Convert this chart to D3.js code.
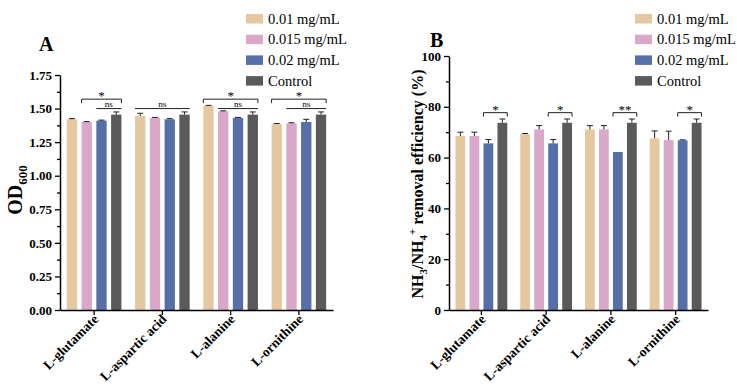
<!DOCTYPE html>
<html>
<head>
<meta charset="utf-8">
<script src="https://cdn.jsdelivr.net/npm/d3@7"></script>
<style>
  body { margin: 0; background: #fff; }
  text { font-family: "Liberation Serif", "Times New Roman", Times, "DejaVu Serif", serif; }
</style>
</head>
<body>
<div id="chart"></div>
<script>
// categories and series
const categories = ["L-glutamate", "L-aspartic acid", "L-alanine", "L-ornithine"];
const seriesNames = ["0.01 mg/mL", "0.015 mg/mL", "0.02 mg/mL", "Control"];
const seriesColors = ["#e6c8a0", "#d9a8c8", "#5570a9", "#5a5a5a"];

// Panel A: OD600
const od001 = [1.42, 1.445, 1.52, 1.385];
const od0015 = [1.40, 1.43, 1.48, 1.39];
const od002 = [1.41, 1.42, 1.43, 1.40];
const odCtrl = [1.455, 1.455, 1.455, 1.455];
const od001Err = [0.005, 0.02, 0.004, 0.004];
const od0015Err = [0.003, 0.004, 0.003, 0.004];
const od002Err = [0.004, 0.005, 0.004, 0.02];
const odCtrlErr = [0.02, 0.02, 0.02, 0.02];
const odTicks = [0, 0.25, 0.5, 0.75, 1.0, 1.25, 1.5, 1.75];

// Panel B: NH3/NH4+ removal efficiency (%)
const rem001 = [68.5, 69.2, 71.1, 67.6];
const rem0015 = [68.5, 71.1, 71.1, 66.9];
const rem002 = [65.6, 65.6, 62.2, 66.8];
const remCtrl = [73.7, 73.7, 73.7, 73.7];
const rem001Err = [1.5, 0.3, 1.5, 2.9];
const rem0015Err = [1.5, 1.5, 1.5, 3.5];
const rem002Err = [1.5, 1.5, 0, 0.2];
const remCtrlErr = [1.5, 1.5, 1.5, 1.5];
const remTicks = [0, 20, 40, 60, 80, 100];

// significance marks: category index, from series, to series, label, level
const sigA = [
    {cat: 0, from: 1, to: 3, label: "*", level: 0},
    {cat: 0, from: 2, to: 3, label: "ns", level: 1},
    {cat: 1, from: 0, to: 3, label: "ns", level: 1},
    {cat: 2, from: 0, to: 3, label: "*", level: 0},
    {cat: 2, from: 1, to: 3, label: "ns", level: 1},
    {cat: 3, from: 0, to: 3, label: "*", level: 0},
    {cat: 3, from: 1, to: 3, label: "ns", level: 1}
];
const sigB = [
    {cat: 0, from: 2, to: 3, label: "*", level: 0},
    {cat: 1, from: 2, to: 3, label: "*", level: 0},
    {cat: 2, from: 2, to: 3, label: "**", level: 0},
    {cat: 3, from: 2, to: 3, label: "*", level: 0}
];

const serif = "'Liberation Serif', 'Times New Roman', Times, 'DejaVu Serif', serif";

let svg = d3.select("#chart").append("svg")
    .attr("width", 737)
    .attr("height", 384);

function drawPanel(opt) {
    let x0 = d3.scaleBand()
        .domain(categories)
        .range([opt.left, opt.right])
        .paddingInner(0.2)
        .paddingOuter(0.1);

    let x1 = d3.scaleBand()
        .domain(d3.range(seriesNames.length))
        .range([0, x0.bandwidth()])
        .paddingInner(0.3);

    let y = d3.scaleLinear()
        .domain(opt.domain)
        .range([opt.bottom, opt.top]);

    let g = svg.append("g");

    // bars
    opt.values.forEach(function (vals, s) {
        g.selectAll(".bar" + s)
            .data(vals)
            .enter().append("rect")
            .attr("x", (d, i) => x0(categories[i]) + x1(s))
            .attr("y", d => y(d))
            .attr("width", x1.bandwidth())
            .attr("height", d => y(0) - y(d))
            .attr("fill", seriesColors[s]);

        // error bars (upper half only)
        vals.forEach(function (d, i) {
            let e = opt.errors[s][i];
            if (!e) return;
            let cx = x0(categories[i]) + x1(s) + x1.bandwidth() / 2;
            g.append("line")
                .attr("x1", cx).attr("x2", cx)
                .attr("y1", y(d)).attr("y2", y(d + e))
                .attr("stroke", "#222").attr("stroke-width", 1);
            g.append("line")
                .attr("x1", cx - 3).attr("x2", cx + 3)
                .attr("y1", y(d + e)).attr("y2", y(d + e))
                .attr("stroke", "#222").attr("stroke-width", 1);
        });
    });

    // minor ticks
    let step = opt.ticks[1] - opt.ticks[0];
    let minor = opt.ticks.slice(0, -1).map(t => t + step / 2);
    g.append("g")
        .attr("transform", "translate(" + opt.left + ",0)")
        .call(d3.axisLeft(y).tickValues(minor).tickSize(3).tickFormat(""))
        .call(a => a.select(".domain").remove())
        .selectAll("line").attr("stroke-width", 1.3);

    // y axis
    let yAxis = g.append("g")
        .attr("transform", "translate(" + opt.left + ",0)")
        .call(d3.axisLeft(y).tickValues(opt.ticks).tickSize(5).tickSizeOuter(0)
            .tickFormat(opt.format));
    yAxis.attr("font-family", serif);
    yAxis.select(".domain").attr("stroke-width", 1.5);
    yAxis.selectAll("line").attr("stroke-width", 1.3);
    yAxis.selectAll("text")
        .attr("font-weight", "bold")
        .attr("font-size", 13);

    // x axis
    let xAxis = g.append("g")
        .attr("transform", "translate(0," + opt.bottom + ")")
        .call(d3.axisBottom(x0).tickSize(5).tickSizeOuter(0));
    xAxis.attr("font-family", serif);
    xAxis.select(".domain").attr("stroke-width", 1.5);
    xAxis.selectAll("line").attr("stroke-width", 1.3);
    xAxis.selectAll("text")
        .attr("font-weight", "bold")
        .attr("font-size", 13.5)
        .attr("text-anchor", "end")
        .attr("dy", null)
        .attr("y", 0)
        .attr("transform", "translate(5,10) rotate(-45)");

    // significance brackets
    opt.sig.forEach(function (s) {
        let cat = categories[s.cat];
        let xa = x0(cat) + x1(s.from);
        let xb = x0(cat) + x1(s.to) + x1.bandwidth();
        let yy = y(opt.levels[s.level]);
        let isStar = s.label !== "ns";
        let path = isStar
            ? "M" + xa + "," + (yy + 4) + "V" + yy + "H" + xb + "V" + (yy + 4)
            : "M" + xa + "," + yy + "H" + xb;
        g.append("path")
            .attr("d", path)
            .attr("fill", "none")
            .attr("stroke", "#222")
            .attr("stroke-width", 1);
        g.append("text")
            .attr("x", (xa + xb) / 2)
            .attr("y", isStar ? yy + 1 : yy - 1.5)
            .attr("text-anchor", "middle")
            .attr("fill", "#000")
            .attr("font-size", isStar ? 13 : 9)
            .text(s.label);
    });

    // legend
    let lg = g.append("g").attr("transform", "translate(" + opt.legendX + ",14)");
    seriesNames.forEach(function (name, i) {
        lg.append("rect")
            .attr("x", 0).attr("y", i * 20.7)
            .attr("width", 17).attr("height", 9.5)
            .attr("fill", seriesColors[i]);
        lg.append("text")
            .attr("x", 22).attr("y", i * 20.7 + 9.5)
            .attr("font-size", 14.5)
            .text(name);
    });

    // panel letter
    g.append("text")
        .attr("x", opt.letterX).attr("y", opt.letterY)
        .attr("font-size", 20)
        .attr("font-weight", "bold")
        .text(opt.letter);

    return g;
}

let gA = drawPanel({
    left: 60, right: 333, top: 75, bottom: 310,
    domain: [0, 1.75], ticks: odTicks, format: d3.format(".2f"),
    values: [od001, od0015, od002, odCtrl],
    errors: [od001Err, od0015Err, od002Err, odCtrlErr],
    sig: sigA, levels: [1.57, 1.50],
    legendX: 246, letter: "A", letterX: 39, letterY: 51
});

let gB = drawPanel({
    left: 449, right: 708, top: 56, bottom: 310,
    domain: [0, 100], ticks: remTicks, format: d3.format("d"),
    values: [rem001, rem0015, rem002, remCtrl],
    errors: [rem001Err, rem0015Err, rem002Err, remCtrlErr],
    sig: sigB, levels: [77.7],
    legendX: 635, letter: "B", letterX: 430, letterY: 47
});

// y axis titles
let tA = gA.append("text")
    .attr("transform", "translate(22,190) rotate(-90)")
    .attr("text-anchor", "middle")
    .attr("font-size", 20)
    .attr("font-weight", "bold");
tA.append("tspan").text("OD");
tA.append("tspan").attr("font-size", 13).attr("dy", 5).text("600");

let tB = gB.append("text")
    .attr("transform", "translate(423,184) rotate(-90)")
    .attr("text-anchor", "middle")
    .attr("font-size", 16)
    .attr("font-weight", "bold");
tB.append("tspan").text("NH");
tB.append("tspan").attr("font-size", 11).attr("dy", 4).text("3");
tB.append("tspan").attr("dy", -4).text("/NH");
tB.append("tspan").attr("font-size", 11).attr("dy", 4).text("4");
tB.append("tspan").attr("font-size", 11).attr("dy", -11).text("+");
tB.append("tspan").attr("dy", 7).text(" removal efficiency (%)");
</script>
</body>
</html>
